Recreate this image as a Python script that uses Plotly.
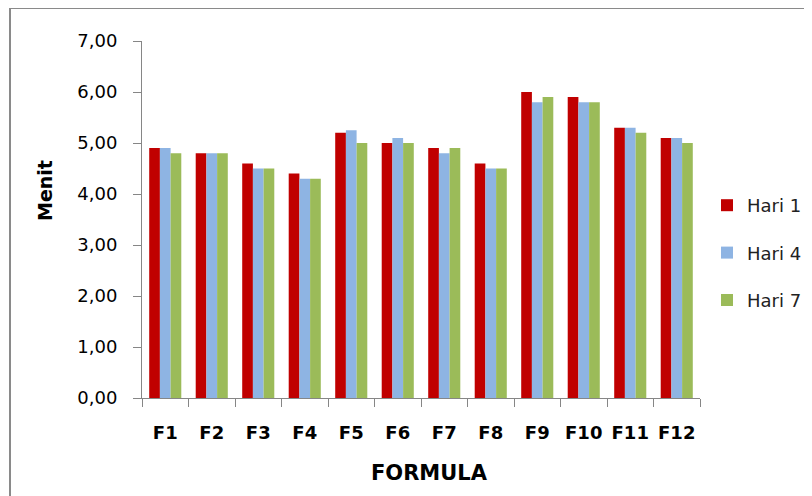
import plotly.graph_objects as go

categories = ["F1", "F2", "F3", "F4", "F5", "F6", "F7", "F8", "F9", "F10", "F11", "F12"]
hari1 = [4.9, 4.8, 4.6, 4.4, 5.2, 5.0, 4.9, 4.6, 6.0, 5.9, 5.3, 5.1]
hari4 = [4.9, 4.8, 4.5, 4.3, 5.25, 5.1, 4.8, 4.5, 5.8, 5.8, 5.3, 5.1]
hari7 = [4.8, 4.8, 4.5, 4.3, 5.0, 5.0, 4.9, 4.5, 5.9, 5.8, 5.2, 5.0]
series_names = ["Hari 1", "Hari 4", "Hari 7"]
colors = ["#C00000", "#8EB4E3", "#9BBB59"]
y_ticks = [0, 1, 2, 3, 4, 5, 6, 7]

FONT = "DejaVu Sans"
OFF = 8  # page body margin
W, H = 812 - OFF, 496 - OFF
# plot area in page pixels: x 142..700, y 41..398
L, T = 142 - OFF, 41 - OFF
R = W - (700 - OFF)
B = H - (398 - OFF)
pw, ph = W - L - R, H - T - B

fig = go.Figure()
for i, (name, vals) in enumerate(zip(series_names, [hari1, hari4, hari7])):
    fig.add_trace(go.Bar(x=categories, y=vals, name=name, legendgroup=name,
                         marker=dict(color=colors[i], line=dict(width=0))))

def px_x(p):  # page pixel -> paper
    return (p - OFF - L) / pw

def px_y(p):
    return (H - B - (p - OFF)) / ph

fig.update_layout(
    width=W, height=H,
    margin=dict(l=L, r=R, t=T, b=B, autoexpand=False),
    paper_bgcolor="white", plot_bgcolor="white",
    separators=",.",
    barmode="group", bargap=0.31, bargroupgap=0,
    font=dict(family=FONT, color="black"),
    showlegend=True,
    legend=dict(x=px_x(707), xanchor="left", y=px_y(253), yanchor="middle",
                font=dict(family=FONT, size=18, color="#222"),
                tracegroupgap=21, itemwidth=30, bgcolor="rgba(0,0,0,0)"),
    xaxis=dict(showline=True, linecolor="#868686", linewidth=1, automargin=False,
               ticks="outside", tickson="boundaries", ticklen=8, tickcolor="#868686",
               tickangle=0,
               tickfont=dict(family=FONT, size=18, color="black", weight="bold"),
               ticklabelstandoff=18, showgrid=False, zeroline=False),
    yaxis=dict(range=[0, 7], tickvals=y_ticks, tickformat=".2f", automargin=False,
               showline=True, linecolor="#868686", linewidth=1,
               ticks="outside", ticklen=8, tickcolor="#868686",
               tickfont=dict(family=FONT, size=18, color="black"),
               ticklabelstandoff=12, showgrid=False, zeroline=False),
    annotations=[
        dict(text="<b>Menit</b>", xref="paper", yref="paper", x=px_x(45), y=px_y(191),
             xanchor="center", yanchor="middle",
             textangle=-90, showarrow=False, font=dict(family=FONT, size=19, color="black")),
        dict(text="<b>FORMULA</b>", xref="paper", yref="paper", x=px_x(429), y=px_y(473),
             xanchor="center", yanchor="middle",
             showarrow=False, font=dict(family=FONT, size=21, color="black")),
    ],
    shapes=[
        dict(type="line", xref="paper", yref="paper", x0=px_x(10), x1=px_x(830),
             y0=px_y(8), y1=px_y(8), line=dict(color="#8A8A8A", width=2)),
        dict(type="line", xref="paper", yref="paper", x0=px_x(10), x1=px_x(10),
             y0=px_y(8), y1=px_y(520), line=dict(color="#8A8A8A", width=2)),
    ],
)

fig.write_html("out.html")
